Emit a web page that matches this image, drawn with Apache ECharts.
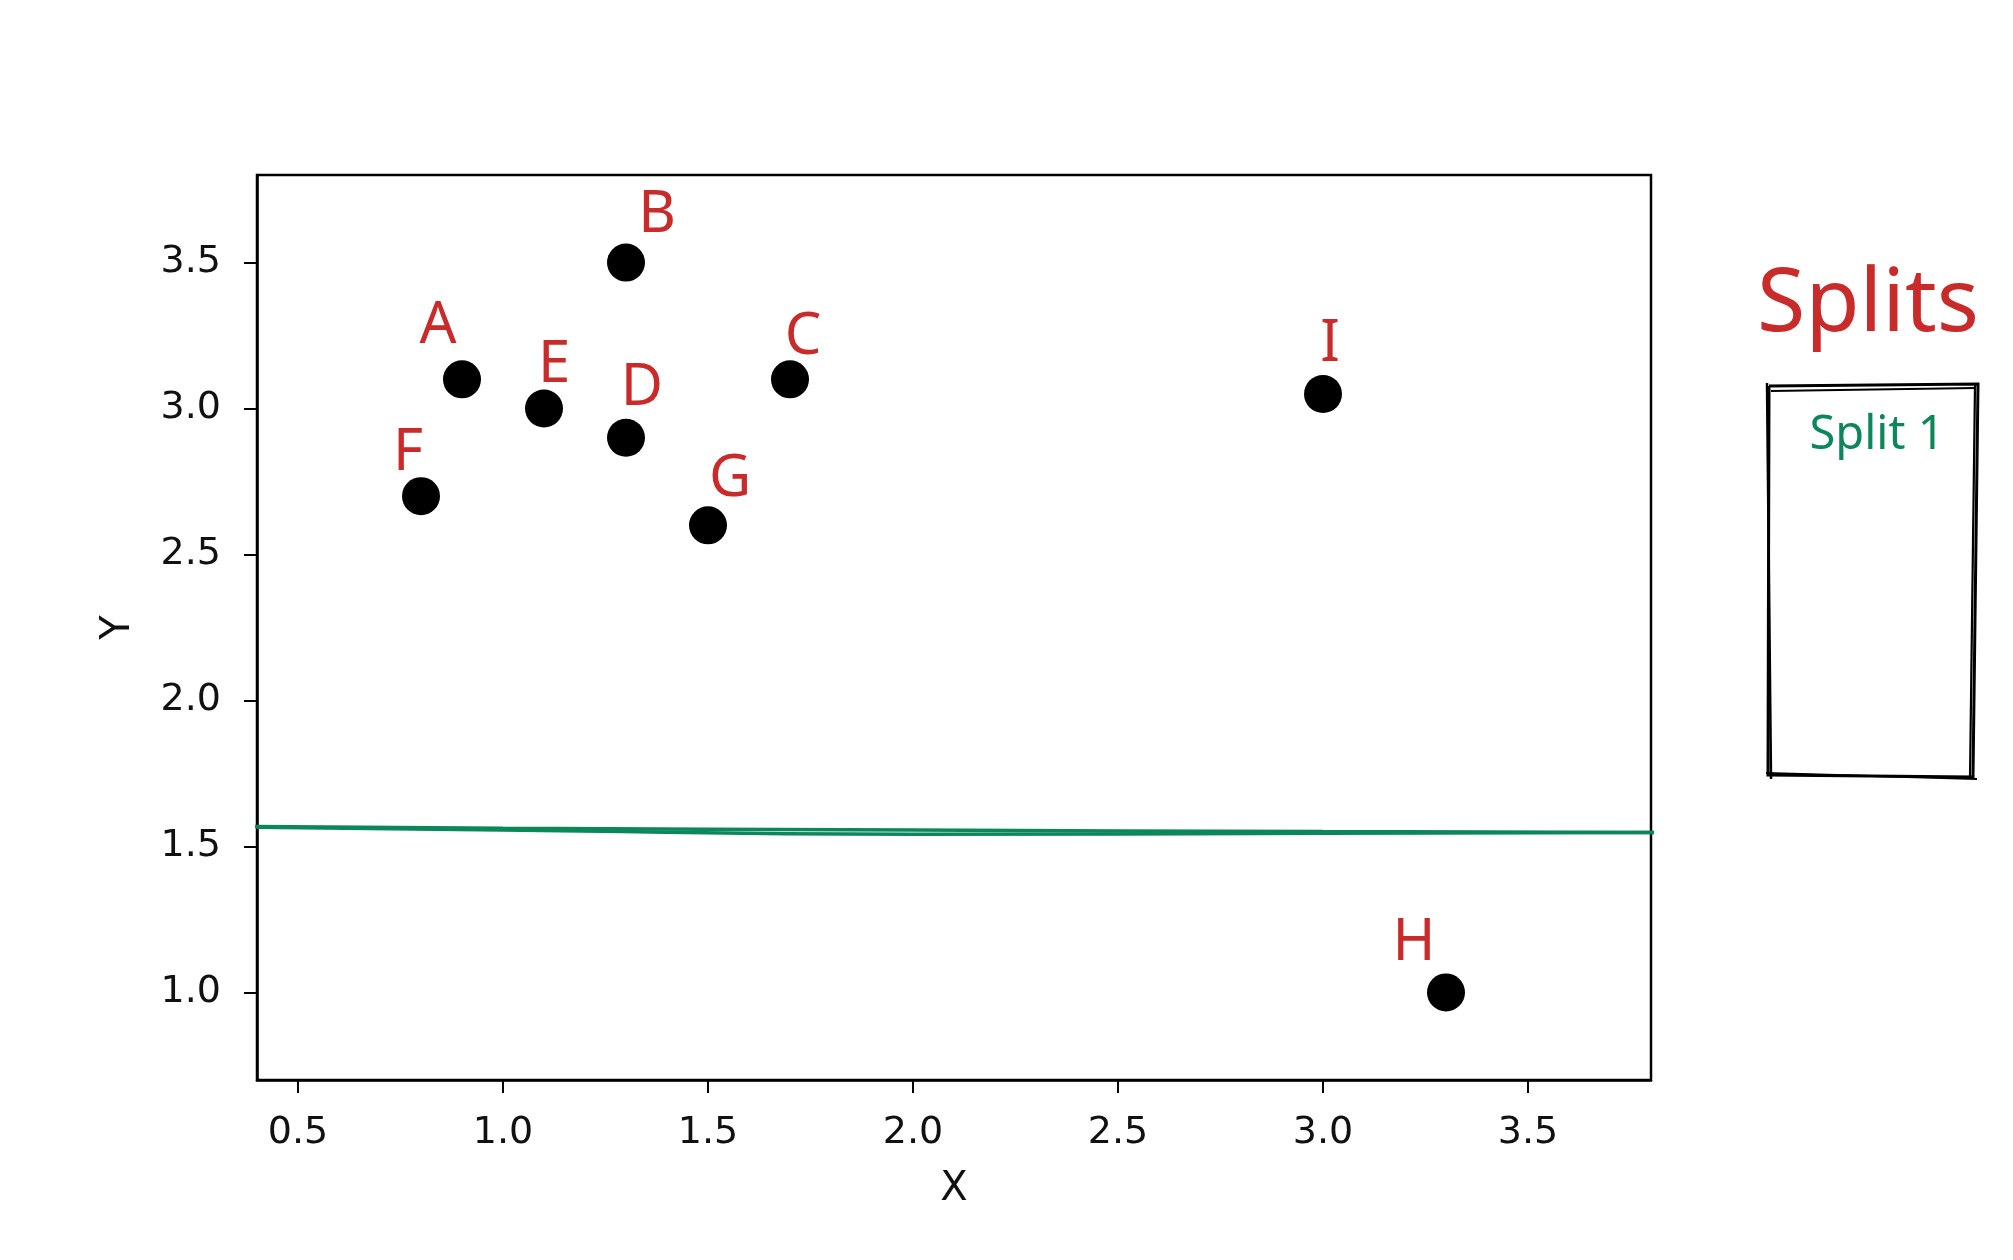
<!DOCTYPE html>
<html>
<head>
<meta charset="utf-8">
<script src="https://cdn.jsdelivr.net/npm/echarts@6/dist/echarts.min.js"></script>
<style>
  html, body { margin: 0; padding: 0; background: #ffffff; }
  #chart { width: 2013px; height: 1260px; }
</style>
</head>
<body>
<div id="chart"></div>
<script>
// ---- data ----
const pointNames = ['A', 'B', 'C', 'D', 'E', 'F', 'G', 'H', 'I'];
const xValues = [0.9, 1.3, 1.7, 1.3, 1.1, 0.8, 1.5, 3.3, 3.0];
const yValues = [3.1, 3.5, 3.1, 2.9, 3.0, 2.7, 2.6, 1.0, 3.05];
const xTickValues = [0.5, 1.0, 1.5, 2.0, 2.5, 3.0, 3.5];
const yTickValues = [1.0, 1.5, 2.0, 2.5, 3.0, 3.5];
// hand-drawn split line (two strokes), [x, y]
const splitStrokeUpper = [[0.39, 1.568], [1.0, 1.562], [2.0, 1.556], [3.0, 1.551], [3.81, 1.548]];
const splitStrokeLower = [[0.40, 1.566], [1.0, 1.556], [2.0, 1.542], [3.0, 1.545], [3.81, 1.548]];
const panelTitle = 'Splits';
const panelItems = ['Split 1'];

// ---- styling (label placement offsets in px, not data) ----
const labelOffsets = [[-24, -53], [31, -47], [13, -42], [16, -49], [10, -43], [-13, -43], [22, -46], [-32, -49], [7, -49]];
const RED = '#c92a2a';
const GREEN = '#0b875a';

const chart = echarts.init(document.getElementById('chart'), null, { renderer: 'canvas' });

const pointData = pointNames.map((n, i) => ({
  name: n,
  value: [xValues[i], yValues[i]],
  label: { offset: labelOffsets[i] }
}));

const fmt = v => Number(v).toFixed(1);

const option = {
  backgroundColor: '#ffffff',
  animation: false,
  grid: {
    left: 257, top: 175, right: 362, bottom: 180,
    show: true, borderColor: '#000', borderWidth: 2.5, backgroundColor: 'transparent'
  },
  xAxis: {
    type: 'value', min: 0.4, max: 3.8,
    name: 'X', nameLocation: 'middle', nameGap: 90,
    nameTextStyle: { fontFamily: 'DejaVu Sans', fontSize: 40, color: '#111' },
    axisLine: { show: true, onZero: false, lineStyle: { color: '#000', width: 2.5 } },
    axisTick: { show: true, length: 13, lineStyle: { color: '#000', width: 2 }, customValues: xTickValues },
    axisLabel: { fontFamily: 'DejaVu Sans', fontSize: 38, color: '#111', margin: 34, customValues: xTickValues, formatter: fmt },
    splitLine: { show: false }
  },
  yAxis: {
    type: 'value', min: 0.7, max: 3.8,
    name: 'Y', nameLocation: 'middle', nameGap: 118, nameRotate: 90,
    nameTextStyle: { fontFamily: 'DejaVu Sans', fontSize: 40, color: '#111' },
    axisLine: { show: true, onZero: false, lineStyle: { color: '#000', width: 2.5 } },
    axisTick: { show: true, length: 13, lineStyle: { color: '#000', width: 2 }, customValues: yTickValues },
    axisLabel: { fontFamily: 'DejaVu Sans', fontSize: 38, color: '#111', margin: 36, customValues: yTickValues, formatter: fmt },
    splitLine: { show: false }
  },
  series: [
    {
      type: 'line', data: splitStrokeUpper, smooth: true, symbol: 'none', clip: false,
      lineStyle: { color: GREEN, width: 3.5, opacity: 1 }, z: 3
    },
    {
      type: 'line', data: splitStrokeLower, smooth: true, symbol: 'none', clip: false,
      lineStyle: { color: GREEN, width: 3.5, opacity: 1 }, z: 3
    },
    {
      type: 'scatter', data: pointData, symbol: 'circle', symbolSize: 38,
      itemStyle: { color: '#000', opacity: 1 }, z: 5,
      label: {
        show: true, position: 'inside', formatter: '{b}',
        fontFamily: 'Noto Sans', fontSize: 58, color: RED, opacity: 1
      }
    }
  ],
  graphic: [
    {
      type: 'text', x: 1868, y: 306, z: 10,
      style: { text: panelTitle, fontFamily: 'Noto Sans', fontSize: 88, fill: RED, align: 'center', verticalAlign: 'middle' }
    },
    {
      type: 'text', x: 1877, y: 436, z: 10,
      style: { text: panelItems[0], fontFamily: 'Noto Sans', fontSize: 47, fill: GREEN, align: 'center', verticalAlign: 'middle' }
    },
    {
      type: 'polyline', z: 10,
      shape: { points: [[1769, 386], [1978, 384], [1973, 777], [1768, 775], [1769, 386]] },
      style: { stroke: '#000', lineWidth: 3, fill: null }
    },
    {
      type: 'polyline', z: 10,
      shape: { points: [[1767, 383], [1771, 779]] },
      style: { stroke: '#000', lineWidth: 2.5, fill: null }
    },
    {
      type: 'polyline', z: 10,
      shape: { points: [[1771, 391], [1976, 388]] },
      style: { stroke: '#000', lineWidth: 2.2, fill: null }
    },
    {
      type: 'polyline', z: 10,
      shape: { points: [[1975, 385], [1970, 778]] },
      style: { stroke: '#000', lineWidth: 2.2, fill: null }
    },
    {
      type: 'polyline', z: 10,
      shape: { points: [[1766, 773], [1977, 779]] },
      style: { stroke: '#000', lineWidth: 2.2, fill: null }
    }
  ]
};

chart.setOption(option);
</script>
</body>
</html>
